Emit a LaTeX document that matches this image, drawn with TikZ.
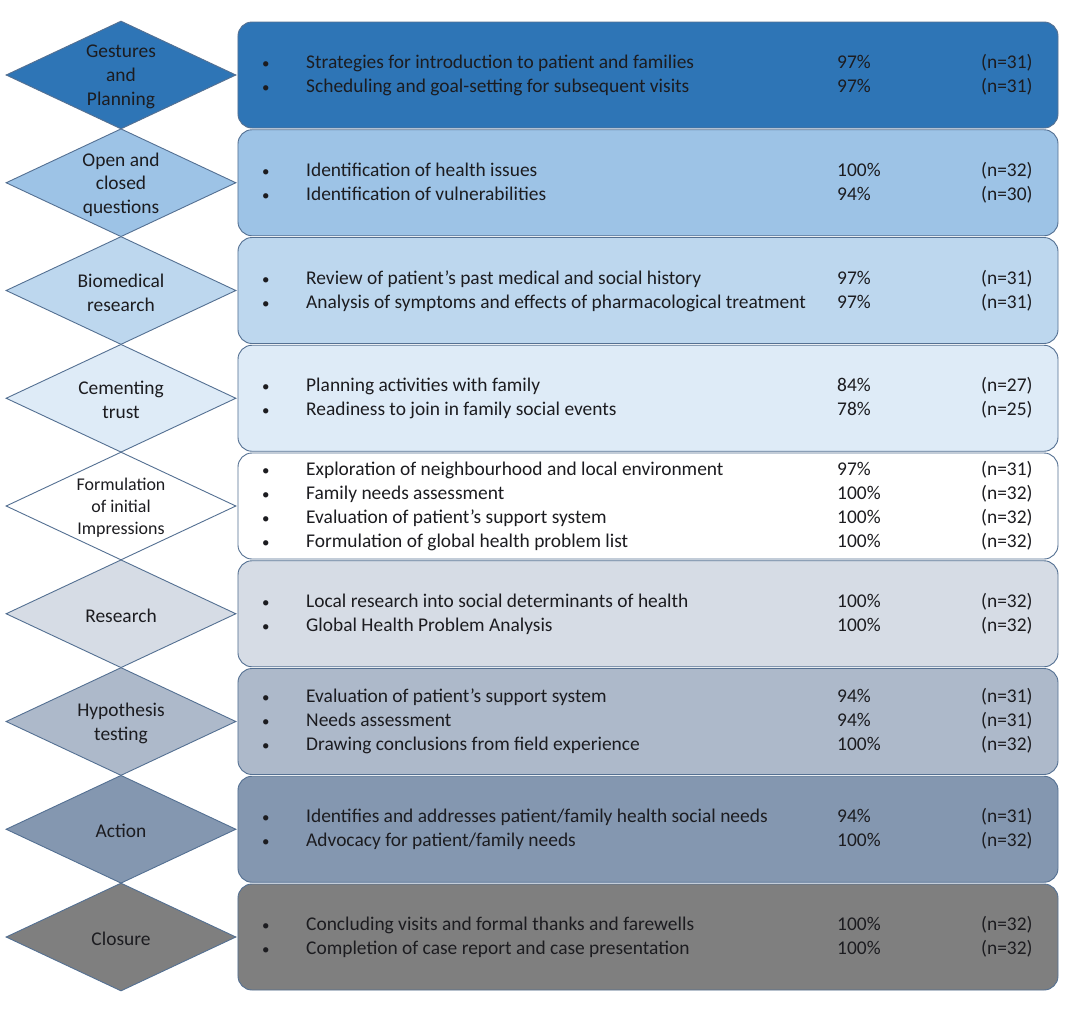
\documentclass[tikz,border=0pt]{standalone}
\usepackage{fontspec}
\setmainfont{Carlito}
\usetikzlibrary{shapes.geometric,positioning}
\definecolor{bordc}{RGB}{84,112,146}
\definecolor{txtc}{RGB}{28,28,32}
\definecolor{cgest}{RGB}{46,117,182}
\definecolor{copen}{RGB}{157,195,230}
\definecolor{cbiom}{RGB}{189,215,238}
\definecolor{ctrust}{RGB}{222,235,247}
\definecolor{cform}{RGB}{255,255,255}
\definecolor{cres}{RGB}{214,220,229}
\definecolor{chyp}{RGB}{173,185,202}
\definecolor{cact}{RGB}{132,151,176}
\definecolor{cclos}{RGB}{127,127,127}
\tikzset{
  stage/.style={diamond, draw=bordc, line width=0.9bp, minimum width=230bp,
    minimum height=108bp, inner sep=0pt, aspect=2.13},
  stagetxt/.style={align=center, text=txtc, yshift=-2bp,
    font=\fontsize{19.5}{24}\selectfont},
  panel/.style={rectangle, rounded corners=14bp, draw=bordc, line width=0.9bp,
    minimum width=820bp, minimum height=106bp},
  item/.style={anchor=west, inner sep=0pt, text=txtc, text height=14bp,
    text depth=3bp, font=\fontsize{19.5}{24}\selectfont}
}
% one line of a panel: bullet, text, share, count
\newcommand{\entry}[5]{%
  \node[item] (#1b) at (262,#2) {{\fontsize{15}{15}\selectfont\textbullet}};
  \node[item] (#1t) at (306,#2) {#3};
  \node[item] (#1p) at (837,#2) {#4};
  \node[item] (#1n) at (981,#2) {(n=#5)};}

\begin{document}
\begin{tikzpicture}[x=1bp, y=-1bp]
\useasboundingbox (0,0) rectangle (1084,1020);
\fill[white] (0,0) rectangle (1084,1020);

% panels
\node[panel, fill=cgest]  (p1) at (648,75)     {};
\node[panel, fill=copen]  (p2) at (648,182.75) {};
\node[panel, fill=cbiom]  (p3) at (648,290.5)  {};
\node[panel, fill=ctrust] (p4) at (648,398.25) {};
\node[panel, fill=cform]  (p5) at (648,506)    {};
\node[panel, fill=cres]   (p6) at (648,613.75) {};
\node[panel, fill=chyp]   (p7) at (648,721.5)  {};
\node[panel, fill=cact]   (p8) at (648,829.25) {};
\node[panel, fill=cclos]  (p9) at (648,937)    {};

% stages
\node[stage, fill=cgest]  (d1) at (121,75)     {};
\node[stage, fill=copen]  (d2) at (121,182.75) {};
\node[stage, fill=cbiom]  (d3) at (121,290.5)  {};
\node[stage, fill=ctrust] (d4) at (121,398.25) {};
\node[stage, fill=cform]  (d5) at (121,506)    {};
\node[stage, fill=cres]   (d6) at (121,613.75) {};
\node[stage, fill=chyp]   (d7) at (121,721.5)  {};
\node[stage, fill=cact]   (d8) at (121,829.25) {};
\node[stage, fill=cclos]  (d9) at (121,937)    {};

\node[stagetxt] (s1) at (d1) {Gestures\\and\\Planning};
\node[stagetxt] (s2) at (d2) {Open and\\closed\\questions};
\node[stagetxt] (s3) at (d3) {Biomedical\\research};
\node[stagetxt] (s4) at (d4) {Cementing\\trust};
\node[stagetxt, font=\fontsize{18}{22}\selectfont] (s5) at (d5) {Formulation\\of initial\\Impressions};
\node[stagetxt] (s6) at (d6) {Research};
\node[stagetxt] (s7) at (d7) {Hypothesis\\testing};
\node[stagetxt] (s8) at (d8) {Action};
\node[stagetxt] (s9) at (d9) {Closure};

% panel lines
\entry{a1}{63}{Strategies for introduction to patient and families}{97\%}{31}
\entry{a2}{87}{Scheduling and goal-setting for subsequent visits}{97\%}{31}
\entry{b1}{171}{Identification of health issues}{100\%}{32}
\entry{b2}{195}{Identification of vulnerabilities}{94\%}{30}
\entry{c1}{279}{Review of patient’s past medical and social history}{97\%}{31}
\entry{c2}{303}{Analysis of symptoms and effects of pharmacological treatment}{97\%}{31}
\entry{e1}{386}{Planning activities with family}{84\%}{27}
\entry{e2}{410}{Readiness to join in family social events}{78\%}{25}
\entry{f1}{470}{Exploration of neighbourhood and local environment}{97\%}{31}
\entry{f2}{494}{Family needs assessment}{100\%}{32}
\entry{f3}{518}{Evaluation of patient’s support system}{100\%}{32}
\entry{f4}{542}{Formulation of global health problem list}{100\%}{32}
\entry{g1}{602}{Local research into social determinants of health}{100\%}{32}
\entry{g2}{626}{Global Health Problem Analysis}{100\%}{32}
\entry{h1}{697}{Evaluation of patient’s support system}{94\%}{31}
\entry{h2}{721}{Needs assessment}{94\%}{31}
\entry{h3}{745}{Drawing conclusions from field experience}{100\%}{32}
\entry{k1}{817}{Identifies and addresses patient/family health social needs}{94\%}{31}
\entry{k2}{841}{Advocacy for patient/family needs}{100\%}{32}
\entry{m1}{925}{Concluding visits and formal thanks and farewells}{100\%}{32}
\entry{m2}{949}{Completion of case report and case presentation}{100\%}{32}
\end{tikzpicture}
\end{document}
